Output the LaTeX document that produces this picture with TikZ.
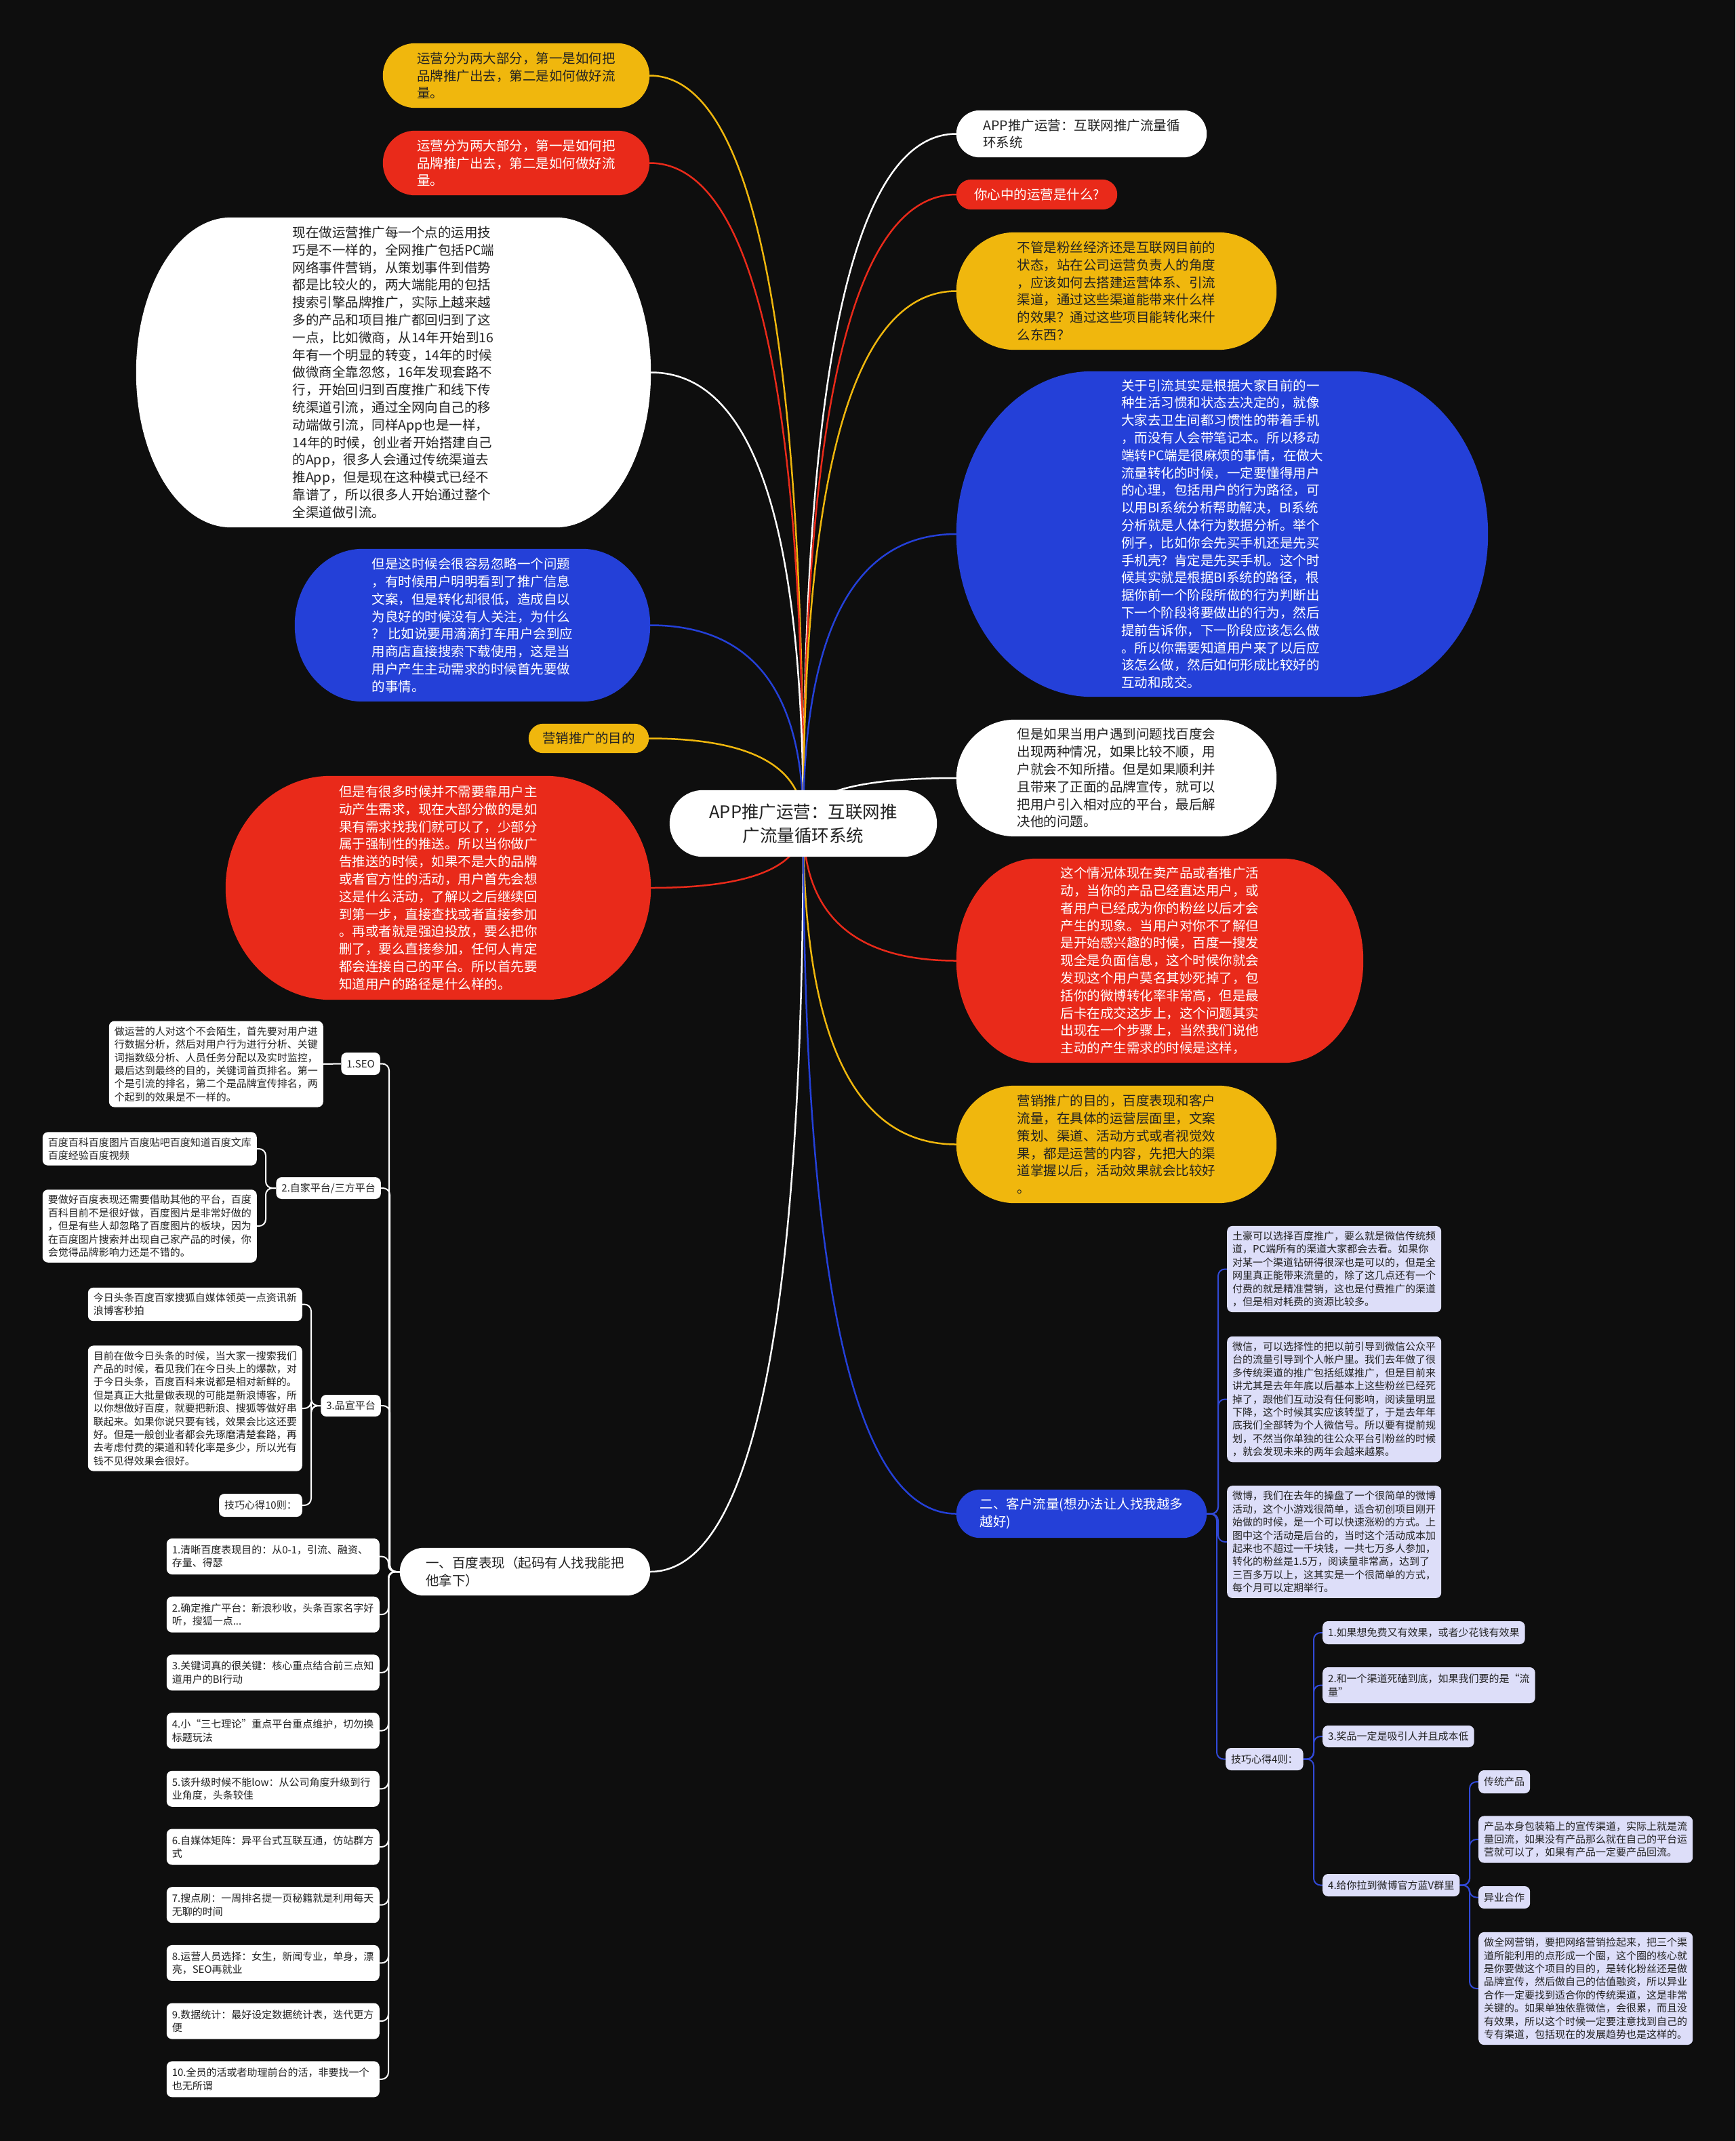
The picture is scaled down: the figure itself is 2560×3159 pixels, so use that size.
\documentclass[tikz,border=0pt]{standalone}
\usepackage{fontspec}
\setmainfont{Noto Sans CJK SC}
\usetikzlibrary{calc}
\definecolor{night}{HTML}{0E0E0E}
\definecolor{amber}{HTML}{F0B70D}
\definecolor{scarlet}{HTML}{E92A1A}
\definecolor{royal}{HTML}{2440D8}
\definecolor{lilac}{HTML}{DDDEF9}
\definecolor{ink}{HTML}{222222}
\definecolor{twigblue}{HTML}{3149D6}
\pgfdeclarelayer{bg}
\pgfdeclarelayer{lines}
\pgfdeclarelayer{fills}
\pgfsetlayers{bg,lines,fills,main}
\newcommand{\bubfill}[4]{%
  \fill[#4] ($(#1.north west)+(#2,0)$) -- ($(#1.north east)+(-#2,0)$)
    .. controls ($(#1.north east)+(-0.4477*#2,0)$) and ($(#1.north east)+(0,0.4477*#3)$) .. ($(#1.north east)+(0,#3)$)
    -- ($(#1.south east)+(0,-#3)$)
    .. controls ($(#1.south east)+(0,-0.4477*#3)$) and ($(#1.south east)+(-0.4477*#2,0)$) .. ($(#1.south east)+(-#2,0)$)
    -- ($(#1.south west)+(#2,0)$)
    .. controls ($(#1.south west)+(0.4477*#2,0)$) and ($(#1.south west)+(0,-0.4477*#3)$) .. ($(#1.south west)+(0,-#3)$)
    -- ($(#1.north west)+(0,#3)$)
    .. controls ($(#1.north west)+(0,0.4477*#3)$) and ($(#1.north west)+(0.4477*#2,0)$) .. cycle;}
\newcommand{\rootline}[3]{%
  \draw[#3, line width=2.5pt] (root.center)
    .. controls ($(root.center)!0.667!(root.center |- #1.#2)$)
    and ($(#1.#2)!0.667!(root.center |- #1.#2)$) .. (#1.#2);}
\tikzset{
  bub/.style={inner sep=0pt, align=left, font=\fontsize{19.5}{25.8}\selectfont},
  memo/.style={fill=white, text=ink, rounded corners=8pt, inner sep=8pt, align=left, font=\fontsize{15}{19.4}\selectfont},
  lmemo/.style={memo, fill=lilac},
  hint/.style={memo, anchor=east, text width=298pt, minimum height=53pt},
  twig/.style={line width=2pt, rounded corners=10pt},
}
\begin{document}
\begin{tikzpicture}[x=1pt,y=-1pt]
\useasboundingbox (0,0) rectangle (2560,3159);
\begin{pgfonlayer}{bg}
\fill[night] (0,0) rectangle (2560,3159);
\end{pgfonlayer}

\node[bub, align=center, minimum width=394pt, minimum height=98pt, text=ink, font=\fontsize{25.5}{35}\selectfont] (root) at (1185,1215) {APP推广运营：互联网推\\广流量循环系统};

\node[bub, minimum width=393pt, minimum height=95pt, text=ink] (tipBrandY) at (761.5,111.5) {运营分为两大部分，第一是如何把\\品牌推广出去，第二是如何做好流\\量。};
\node[bub, minimum width=393pt, minimum height=95pt, text=white] (tipBrandR) at (761.5,240.5) {运营分为两大部分，第一是如何把\\品牌推广出去，第二是如何做好流\\量。};
\node[bub, minimum width=759pt, minimum height=457pt, text=ink] (tipPC) at (580.5,549.5) {现在做运营推广每一个点的运用技\\巧是不一样的，全网推广包括PC端\\网络事件营销，从策划事件到借势\\都是比较火的，两大端能用的包括\\搜索引擎品牌推广，实际上越来越\\多的产品和项目推广都回归到了这\\一点，比如微商，从14年开始到16\\年有一个明显的转变，14年的时候\\做微商全靠忽悠，16年发现套路不\\行，开始回归到百度推广和线下传\\统渠道引流，通过全网向自己的移\\动端做引流，同样App也是一样，\\14年的时候，创业者开始搭建自己\\的App，很多人会通过传统渠道去\\推App，但是现在这种模式已经不\\靠谱了，所以很多人开始通过整个\\全渠道做引流。};
\node[bub, minimum width=524pt, minimum height=225pt, text=white] (tipIgnore) at (697,922.5) {但是这时候会很容易忽略一个问题\\，有时候用户明明看到了推广信息\\文案，但是转化却很低，造成自以\\为良好的时候没有人关注，为什么\\？ 比如说要用滴滴打车用户会到应\\用商店直接搜索下载使用，这是当\\用户产生主动需求的时候首先要做\\的事情。};
\node[bub, minimum width=177pt, minimum height=43pt, text=ink] (tipGoal) at (868.5,1089.5) {营销推广的目的};
\node[bub, minimum width=627pt, minimum height=330pt, text=white] (tipPush) at (646.5,1310) {但是有很多时候并不需要靠用户主\\动产生需求，现在大部分做的是如\\果有需求找我们就可以了，少部分\\属于强制性的推送。所以当你做广\\告推送的时候，如果不是大的品牌\\或者官方性的活动，用户首先会想\\这是什么活动，了解以之后继续回\\到第一步，直接查找或者直接参加\\。再或者就是强迫投放，要么把你\\删了，要么直接参加，任何人肯定\\都会连接自己的平台。所以首先要\\知道用户的路径是什么样的。};

\node[bub, minimum width=369pt, minimum height=69pt, text=ink] (tipTitle) at (1595.5,197.5) {APP推广运营：互联网推广流量循\\环系统};
\node[bub, minimum width=237pt, minimum height=44pt, text=white] (tipAsk) at (1529.5,287) {你心中的运营是什么?};
\node[bub, minimum width=472pt, minimum height=173pt, text=ink] (tipFans) at (1647,429.5) {不管是粉丝经济还是互联网目前的\\状态，站在公司运营负责人的角度\\，应该如何去搭建运营体系、引流\\渠道，通过这些渠道能带来什么样\\的效果？通过这些项目能转化来什\\么东西？};
\node[bub, minimum width=784pt, minimum height=480pt, text=white] (tipFlow) at (1803,788) {关于引流其实是根据大家目前的一\\种生活习惯和状态去决定的，就像\\大家去卫生间都习惯性的带着手机\\，而没有人会带笔记本。所以移动\\端转PC端是很麻烦的事情，在做大\\流量转化的时候，一定要懂得用户\\的心理，包括用户的行为路径，可\\以用BI系统分析帮助解决，BI系统\\分析就是人体行为数据分析。举个\\例子，比如你会先买手机还是先买\\手机壳？肯定是先买手机。这个时\\候其实就是根据BI系统的路径，根\\据你前一个阶段所做的行为判断出\\下一个阶段将要做出的行为，然后\\提前告诉你，下一阶段应该怎么做\\。所以你需要知道用户来了以后应\\该怎么做，然后如何形成比较好的\\互动和成交。};
\node[bub, minimum width=472pt, minimum height=172pt, text=ink] (tipBaidu) at (1647,1148) {但是如果当用户遇到问题找百度会\\出现两种情况，如果比较不顺，用\\户就会不知所措。但是如果顺利并\\且带来了正面的品牌宣传，就可以\\把用户引入相对应的平台，最后解\\决他的问题。};
\node[bub, minimum width=600pt, minimum height=301pt, text=white] (tipDead) at (1711,1417.5) {这个情况体现在卖产品或者推广活\\动，当你的产品已经直达用户，或\\者用户已经成为你的粉丝以后才会\\产生的现象。当用户对你不了解但\\是开始感兴趣的时候，百度一搜发\\现全是负面信息，这个时候你就会\\发现这个用户莫名其妙死掉了，包\\括你的微博转化率非常高，但是最\\后卡在成交这步上，这个问题其实\\出现在一个步骤上，当然我们说他\\主动的产生需求的时候是这样，};
\node[bub, minimum width=472pt, minimum height=173pt, text=ink] (tipAim) at (1647,1688.5) {营销推广的目的，百度表现和客户\\流量，在具体的运营层面里，文案\\策划、渠道、活动方式或者视觉效\\果，都是运营的内容，先把大的渠\\道掌握以后，活动效果就会比较好\\。};

\node[bub, minimum width=369pt, minimum height=70pt, text=ink] (baidu) at (774.5,2319) {一、百度表现（起码有人找我能把\\他拿下）};
\node[bub, minimum width=369pt, minimum height=71pt, text=white] (traffic) at (1595.5,2233.5) {二、客户流量(想办法让人找我越多\\越好)};

\node[memo, anchor=east, minimum height=33pt] (seo) at (561,1569.5) {1.SEO};
\node[memo, anchor=east] (seoTxt) at (477,1570) {做运营的人对这个不会陌生，首先要对用户进\\行数据分析，然后对用户行为进行分析、关键\\词指数级分析、人员任务分配以及实时监控，\\最后达到最终的目的，关键词首页排名。第一\\个是引流的排名，第二个是品牌宣传排名，两\\个起到的效果是不一样的。};
\node[memo, anchor=east, minimum height=32pt] (own) at (562,1753) {2.自家平台/三方平台};
\node[memo, anchor=east] (ownA) at (379,1695) {百度百科百度图片百度贴吧百度知道百度文库\\百度经验百度视频};
\node[memo, anchor=east] (ownB) at (379,1809) {要做好百度表现还需要借助其他的平台，百度\\百科目前不是很好做，百度图片是非常好做的\\，但是有些人却忽略了百度图片的板块，因为\\在百度图片搜索并出现自己家产品的时候，你\\会觉得品牌影响力还是不错的。};
\node[memo, anchor=east, minimum height=32pt] (pr) at (562,2074) {3.品宣平台};
\node[memo, anchor=east] (prA) at (446,1924.5) {今日头条百度百家搜狐自媒体领英一点资讯新\\浪博客秒拍};
\node[memo, anchor=east] (prB) at (446,2078) {目前在做今日头条的时候，当大家一搜索我们\\产品的时候，看见我们在今日头上的爆款，对\\于今日头条，百度百科来说都是相对新鲜的。\\但是真正大批量做表现的可能是新浪博客，所\\以你想做好百度，就要把新浪、搜狐等做好串\\联起来。如果你说只要有钱，效果会比这还要\\好。但是一般创业者都会先琢磨清楚套路，再\\去考虑付费的渠道和转化率是多少，所以光有\\钱不见得效果会很好。};
\node[memo, anchor=east, minimum height=34pt] (tricksTen) at (446,2221) {技巧心得10则：};

\node[hint] (t1) at (560,2296.5) {1.清晰百度表现目的：从0-1，引流、融资、\\存量、得瑟};
\node[hint] (t2) at (560,2382.2) {2.确定推广平台：新浪秒收，头条百家名字好\\听，搜狐一点...};
\node[hint] (t3) at (560,2467.9) {3.关键词真的很关键：核心重点结合前三点知\\道用户的BI行动};
\node[hint] (t4) at (560,2553.6) {4.小“三七理论”重点平台重点维护，切勿换\\标题玩法};
\node[hint] (t5) at (560,2639.3) {5.该升级时候不能low：从公司角度升级到行\\业角度，头条较佳};
\node[hint] (t6) at (560,2725) {6.自媒体矩阵：异平台式互联互通，仿站群方\\式};
\node[hint] (t7) at (560,2810.7) {7.搜点刷：一周排名提一页秘籍就是利用每天\\无聊的时间};
\node[hint] (t8) at (560,2896.4) {8.运营人员选择：女生，新闻专业，单身，漂\\亮，SEO再就业};
\node[hint] (t9) at (560,2982.1) {9.数据统计：最好设定数据统计表，迭代更方\\便};
\node[hint] (t10) at (560,3067.8) {10.全员的活或者助理前台的活，非要找一个\\也无所谓};

\node[lmemo, anchor=west] (wealth) at (1810,1872.5) {土豪可以选择百度推广，要么就是微信传统频\\道，PC端所有的渠道大家都会去看。如果你\\对某一个渠道钻研得很深也是可以的，但是全\\网里真正能带来流量的，除了这几点还有一个\\付费的就是精准营销，这也是付费推广的渠道\\，但是相对耗费的资源比较多。};
\node[lmemo, anchor=west] (wechat) at (1810,2064.5) {微信，可以选择性的把以前引导到微信公众平\\台的流量引导到个人帐户里。我们去年做了很\\多传统渠道的推广包括纸媒推广，但是目前来\\讲尤其是去年年底以后基本上这些粉丝已经死\\掉了，跟他们互动没有任何影响，阅读量明显\\下降，这个时候其实应该转型了，于是去年年\\底我们全部转为个人微信号。所以要有提前规\\划，不然当你单独的往公众平台引粉丝的时候\\，就会发现未来的两年会越来越累。};
\node[lmemo, anchor=west] (weibo) at (1810,2275) {微博，我们在去年的操盘了一个很简单的微博\\活动，这个小游戏很简单，适合初创项目刚开\\始做的时候，是一个可以快速涨粉的方式。上\\图中这个活动是后台的，当时这个活动成本加\\起来也不超过一千块钱，一共七万多人参加，\\转化的粉丝是1.5万，阅读量非常高，达到了\\三百多万以上，这其实是一个很简单的方式，\\每个月可以定期举行。};
\node[lmemo, anchor=west, minimum height=33pt] (tricksFour) at (1808,2595.5) {技巧心得4则：};
\node[lmemo, anchor=west, minimum height=34pt] (k1) at (1951,2409) {1.如果想免费又有效果，或者少花钱有效果};
\node[lmemo, anchor=west, minimum height=53pt] (k2) at (1951,2486.5) {2.和一个渠道死磕到底，如果我们要的是“流\\量”};
\node[lmemo, anchor=west, minimum height=32pt] (k3) at (1951,2562) {3.奖品一定是吸引人并且成本低};
\node[lmemo, anchor=west, minimum height=33pt] (k4) at (1951,2781.5) {4.给你拉到微博官方蓝V群里};
\node[lmemo, anchor=west, minimum height=34pt] (oldGoods) at (2181,2629) {传统产品};
\node[lmemo, anchor=west] (oldGoodsTxt) at (2181,2714) {产品本身包装箱上的宣传渠道，实际上就是流\\量回流，如果没有产品那么就在自己的平台运\\营就可以了，如果有产品一定要产品回流。};
\node[lmemo, anchor=west, minimum height=33pt] (crossBiz) at (2181,2799.5) {异业合作};
\node[lmemo, anchor=west] (crossBizTxt) at (2181,2934) {做全网营销，要把网络营销捡起来，把三个渠\\道所能利用的点形成一个圈，这个圈的核心就\\是你要做这个项目的目的，是转化粉丝还是做\\品牌宣传，然后做自己的估值融资，所以异业\\合作一定要找到适合你的传统渠道，这是非常\\关键的。如果单独依靠微信，会很累，而且没\\有效果，所以这个时候一定要注意找到自己的\\专有渠道，包括现在的发展趋势也是这样的。};

\begin{pgfonlayer}{fills}
\bubfill{root}{49}{49}{white}
\bubfill{tipBrandY}{47.5}{47.5}{amber}
\bubfill{tipBrandR}{47.5}{47.5}{scarlet}
\bubfill{tipPC}{140}{228}{white}
\bubfill{tipIgnore}{100}{112}{royal}
\bubfill{tipGoal}{21.5}{21.5}{amber}
\bubfill{tipPush}{155}{165}{scarlet}
\bubfill{tipTitle}{34.5}{34.5}{white}
\bubfill{tipAsk}{22}{22}{scarlet}
\bubfill{tipFans}{86}{86}{amber}
\bubfill{tipFlow}{200}{240}{royal}
\bubfill{tipBaidu}{86}{86}{white}
\bubfill{tipDead}{118}{150}{scarlet}
\bubfill{tipAim}{86}{86}{amber}
\bubfill{baidu}{35}{35}{white}
\bubfill{traffic}{35}{35}{royal}
\end{pgfonlayer}

\begin{pgfonlayer}{lines}
\rootline{tipBrandY}{east}{amber}
\rootline{tipBrandR}{east}{scarlet}
\rootline{tipPC}{east}{white}
\rootline{tipIgnore}{east}{royal}
\rootline{tipGoal}{east}{amber}
\rootline{tipPush}{east}{scarlet}
\rootline{tipTitle}{west}{white}
\rootline{tipAsk}{west}{scarlet}
\rootline{tipFans}{west}{amber}
\rootline{tipFlow}{west}{royal}
\rootline{tipBaidu}{west}{white}
\rootline{tipDead}{west}{scarlet}
\rootline{tipAim}{west}{amber}
\rootline{baidu}{east}{white}
\rootline{traffic}{west}{royal}

\draw[twig, white] (baidu.west) -| ($(seo.east)+(13,0)$) -- (seo.east);
\draw[twig, white] (baidu.west) -| ($(own.east)+(13,0)$) -- (own.east);
\draw[twig, white] (baidu.west) -| ($(pr.east)+(13,0)$) -- (pr.east);
\draw[twig, white] (baidu.west) -| ($(t1.east)+(13,0)$) -- (t1.east);
\draw[twig, white] (baidu.west) -| ($(t2.east)+(13,0)$) -- (t2.east);
\draw[twig, white] (baidu.west) -| ($(t3.east)+(13,0)$) -- (t3.east);
\draw[twig, white] (baidu.west) -| ($(t4.east)+(13,0)$) -- (t4.east);
\draw[twig, white] (baidu.west) -| ($(t5.east)+(13,0)$) -- (t5.east);
\draw[twig, white] (baidu.west) -| ($(t6.east)+(13,0)$) -- (t6.east);
\draw[twig, white] (baidu.west) -| ($(t7.east)+(13,0)$) -- (t7.east);
\draw[twig, white] (baidu.west) -| ($(t8.east)+(13,0)$) -- (t8.east);
\draw[twig, white] (baidu.west) -| ($(t9.east)+(13,0)$) -- (t9.east);
\draw[twig, white] (baidu.west) -| ($(t10.east)+(13,0)$) -- (t10.east);
\draw[twig, white] (seo.west) -- (seoTxt.east);
\draw[twig, white] (own.west) -| ($(ownA.east)+(13,0)$) -- (ownA.east);
\draw[twig, white] (own.west) -| ($(ownB.east)+(13,0)$) -- (ownB.east);
\draw[twig, white] (pr.west) -| ($(prA.east)+(13,0)$) -- (prA.east);
\draw[twig, white] (pr.west) -| ($(prB.east)+(13,0)$) -- (prB.east);
\draw[twig, white] (pr.west) -| ($(tricksTen.east)+(13,0)$) -- (tricksTen.east);

\draw[twig, twigblue] (traffic.east) -| ($(wealth.west)+(-13,0)$) -- (wealth.west);
\draw[twig, twigblue] (traffic.east) -| ($(wechat.west)+(-13,0)$) -- (wechat.west);
\draw[twig, twigblue] (traffic.east) -| ($(weibo.west)+(-13,0)$) -- (weibo.west);
\draw[twig, twigblue] (traffic.east) -| ($(tricksFour.west)+(-13,0)$) -- (tricksFour.west);
\draw[twig, twigblue] (tricksFour.east) -| ($(k1.west)+(-13,0)$) -- (k1.west);
\draw[twig, twigblue] (tricksFour.east) -| ($(k2.west)+(-13,0)$) -- (k2.west);
\draw[twig, twigblue] (tricksFour.east) -| ($(k3.west)+(-13,0)$) -- (k3.west);
\draw[twig, twigblue] (tricksFour.east) -| ($(k4.west)+(-13,0)$) -- (k4.west);
\draw[twig, twigblue] (k4.east) -| ($(oldGoods.west)+(-13,0)$) -- (oldGoods.west);
\draw[twig, twigblue] (k4.east) -| ($(oldGoodsTxt.west)+(-13,0)$) -- (oldGoodsTxt.west);
\draw[twig, twigblue] (k4.east) -| ($(crossBiz.west)+(-13,0)$) -- (crossBiz.west);
\draw[twig, twigblue] (k4.east) -| ($(crossBizTxt.west)+(-13,0)$) -- (crossBizTxt.west);
\end{pgfonlayer}
\end{tikzpicture}
\end{document}
